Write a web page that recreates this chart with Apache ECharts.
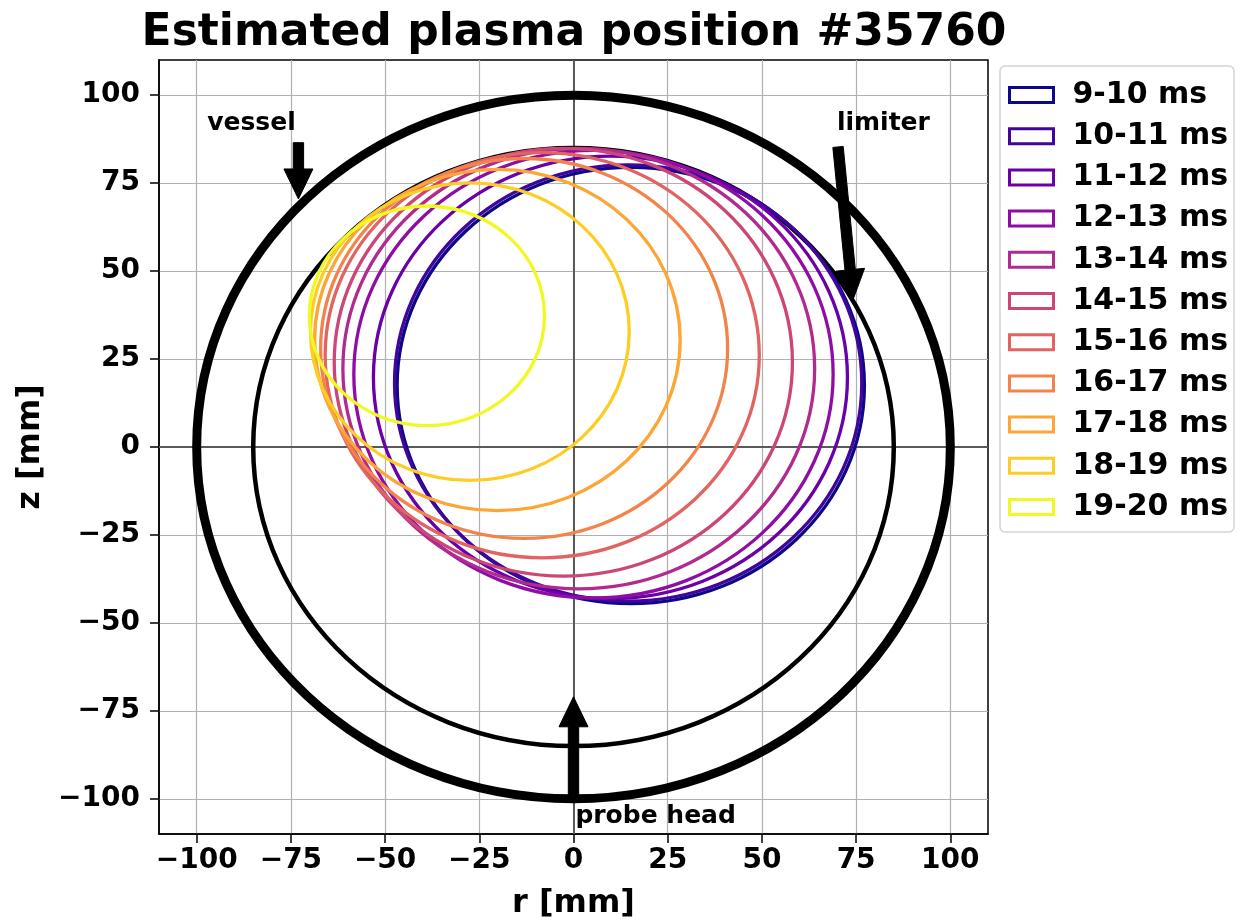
<!DOCTYPE html>
<html><head><meta charset="utf-8">
<script src="https://cdn.jsdelivr.net/npm/echarts@6/dist/echarts.min.js"></script>
<style>html,body{margin:0;padding:0;background:#fff}#c{width:1240px;height:923px}</style>
</head><body><div id="c"></div>
<script>
// ---- data ----
const seriesNames = ['9-10 ms','10-11 ms','11-12 ms','12-13 ms','13-14 ms','14-15 ms','15-16 ms','16-17 ms','17-18 ms','18-19 ms','19-20 ms'];
const seriesColors = ['#0d0887','#41049d','#6a00a8','#8f0da4','#b12a90','#cc4778','#e16462','#f2844b','#fca636','#fcce25','#f0f921'];
const centerR = [15.2, 14.5, 9.8, 5.3, 1.4, -2.7, -8.3, -13.1, -20.2, -27.5, -38.9];
const centerZ = [17.5, 18.2, 19.8, 20.7, 22.3, 24.1, 26.1, 28.0, 30.4, 32.8, 37.3];
const radii   = [62.0, 62.0, 62.9, 63.6, 62.6, 60.8, 57.6, 54.0, 48.5, 42.3, 31.2];
const vesselRadius = 100;
const limiterRadius = 85;
const rTicks = [-100, -75, -50, -25, 0, 25, 50, 75, 100];
const zTicks = [-100, -75, -50, -25, 0, 25, 50, 75, 100];
const annotationTexts = ['vessel', 'limiter', 'probe head'];
const annotationR = [-97.2, 69.9, 0.5];
const annotationZ = [92.0, 92.0, -105.0];
const arrowTailR = [-73.0, 70.2, 0.0];
const arrowTailZ = [86.5, 85.3, -98.8];
const arrowTipR  = [-73.0, 74.2, 0.0];
const arrowTipZ  = [70.5, 41.9, -71.0];

// ---- helpers ----
const FONT = 'DejaVu Sans';
const fmt = v => String(v).replace('-', '\u2212');

function ellipseItem(color, width) {
  return function (params, api) {
    const c = api.coord([api.value(0), api.value(1)]);
    const s = api.size([api.value(2), api.value(2)]);
    return {
      type: 'ellipse',
      shape: { cx: c[0], cy: c[1], rx: s[0], ry: s[1] },
      style: { fill: 'none', stroke: color, lineWidth: width }
    };
  };
}

function arrowItem(params, api) {
  const p0 = api.coord([api.value(0), api.value(1)]);
  const p1 = api.coord([api.value(2), api.value(3)]);
  const dx = p1[0] - p0[0], dy = p1[1] - p0[1];
  const L = Math.hypot(dx, dy);
  const ux = dx / L, uy = dy / L, nx = -uy, ny = ux;
  const hl = 30, hw = 14.5, sw = 5.2;
  const bx = p1[0] - ux * hl, by = p1[1] - uy * hl;
  const pts = [
    [p0[0] + nx * sw, p0[1] + ny * sw],
    [bx + nx * sw, by + ny * sw],
    [bx + nx * hw, by + ny * hw],
    [p1[0], p1[1]],
    [bx - nx * hw, by - ny * hw],
    [bx - nx * sw, by - ny * sw],
    [p0[0] - nx * sw, p0[1] - ny * sw]
  ];
  return { type: 'polygon', shape: { points: pts }, style: { fill: '#000', stroke: '#000', lineWidth: 1 } };
}

function textItem(params, api) {
  const p = api.coord([api.value(0), api.value(1)]);
  return {
    type: 'text', x: p[0], y: p[1],
    style: {
      text: annotationTexts[params.dataIndex], fill: '#000',
      fontSize: 25, fontWeight: 'bold', fontFamily: FONT,
      align: 'left', verticalAlign: 'middle'
    }
  };
}

const series = [];
series.push({
  name: 'vessel', type: 'custom', coordinateSystem: 'cartesian2d',
  renderItem: ellipseItem('#000', 9), encode: { x: 0, y: 1 },
  data: [[0, 0, vesselRadius]], z: 2, silent: true,
  markLine: {
    silent: true, z: 1, symbol: ['none', 'none'], label: { show: false }, animation: false,
    lineStyle: { color: '#5a5a5a', width: 2, type: 'solid' },
    emphasis: { disabled: true },
    data: [{ xAxis: 0 }, { yAxis: 0 }]
  }
});
series.push({
  name: 'limiter', type: 'custom', coordinateSystem: 'cartesian2d',
  renderItem: ellipseItem('#000', 4.5), encode: { x: 0, y: 1 },
  data: [[0, 0, limiterRadius]], z: 2, silent: true
});
seriesNames.forEach((n, i) => {
  series.push({
    name: n, type: 'custom', coordinateSystem: 'cartesian2d',
    renderItem: ellipseItem(seriesColors[i], 3.3), encode: { x: 0, y: 1 },
    itemStyle: { color: seriesColors[i] },
    data: [[centerR[i], centerZ[i], radii[i]]], z: 3, silent: true
  });
});
series.push({
  name: 'arrows', type: 'custom', coordinateSystem: 'cartesian2d',
  renderItem: arrowItem, encode: { x: [0, 2], y: [1, 3] },
  data: arrowTailR.map((v, i) => [v, arrowTailZ[i], arrowTipR[i], arrowTipZ[i]]), z: 6, silent: true
});
series.push({
  name: 'labels', type: 'custom', coordinateSystem: 'cartesian2d',
  renderItem: textItem, encode: { x: 0, y: 1 },
  data: annotationR.map((v, i) => [v, annotationZ[i]]), z: 7, silent: true
});

const axisCommon = {
  type: 'value', min: -110, max: 110, minInterval: 25, maxInterval: 25,
  nameLocation: 'middle',
  nameTextStyle: { fontSize: 32, fontWeight: 'bold', fontFamily: FONT, color: '#000' },
  axisLine: { show: true, onZero: false, lineStyle: { color: '#000', width: 1.5 } },
  splitLine: { show: true, lineStyle: { color: '#b0b0b0', width: 1.2 } }
};

const option = {
  animation: false,
  backgroundColor: '#fff',
  title: {
    text: 'Estimated plasma position #35760', left: 574, top: 12, padding: 0, textAlign: 'center',
    textStyle: { fontSize: 44, fontWeight: 'bold', fontFamily: FONT, color: '#000' }
  },
  grid: { left: 159, right: 252, top: 60, bottom: 89, containLabel: false, outerBoundsMode: 'none',
          show: true, borderColor: '#000', borderWidth: 1.5, backgroundColor: 'transparent' },
  xAxis: Object.assign({}, axisCommon, {
    name: 'r [mm]', nameGap: 54,
    axisTick: { show: true, customValues: rTicks, length: 9, lineStyle: { color: '#000', width: 1.5 } },
    axisLabel: { customValues: rTicks, formatter: fmt, margin: 13, fontSize: 28, fontWeight: 'bold', fontFamily: FONT, color: '#000',
                 showMinLabel: true, showMaxLabel: true }
  }),
  yAxis: Object.assign({}, axisCommon, {
    name: 'z [mm]', nameGap: 112, nameRotate: 90,
    axisTick: { show: true, customValues: zTicks, length: 9, lineStyle: { color: '#000', width: 1.5 } },
    axisLabel: { customValues: zTicks, formatter: fmt, margin: 19, fontSize: 28, fontWeight: 'bold', fontFamily: FONT, color: '#000',
                 showMinLabel: true, showMaxLabel: true }
  }),
  legend: {
    orient: 'vertical', left: 1000, top: 66, padding: [14, 6, 10, 8],
    itemWidth: 44, itemHeight: 15, itemGap: 11.2, selectedMode: false,
    borderColor: '#d4d4d4', borderWidth: 1.5, borderRadius: 5, backgroundColor: '#fff',
    textStyle: { fontSize: 30, fontWeight: 'bold', fontFamily: FONT, color: '#000', lineHeight: 30, padding: [0, 0, 0, 14] },
    data: seriesNames.map((n, i) => ({ name: n, icon: 'rect', itemStyle: { color: '#fff', borderColor: seriesColors[i], borderWidth: 3 } }))
  },
  series: series
};

const chart = echarts.init(document.getElementById('c'), null, { renderer: 'canvas' });
chart.setOption(option);
</script>
</body></html>
